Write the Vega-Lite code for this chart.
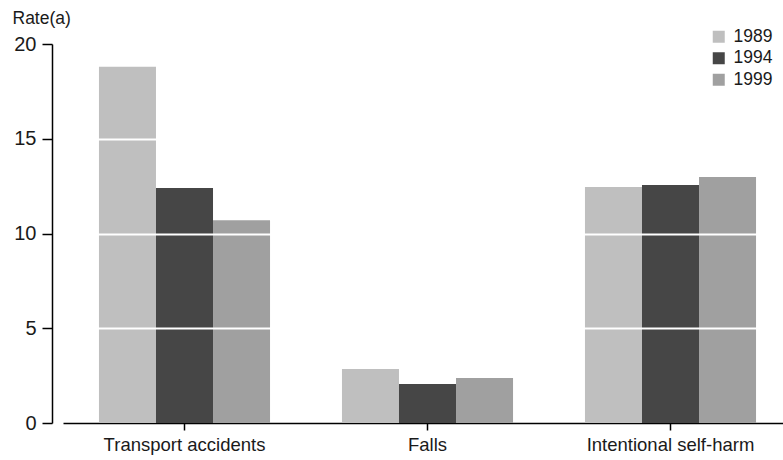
{
  "$schema": "https://vega.github.io/schema/vega-lite/v6.json",
  "width": 729,
  "height": 379,
  "autosize": {"type": "none"},
  "padding": {"left": 63, "top": 44, "right": 0, "bottom": 37},
  "background": "white",
  "config": {
    "view": {"stroke": null},
    "font": "Liberation Sans",
    "axis": {"labelFont": "Liberation Sans", "titleFont": "Liberation Sans", "labelColor": "#1a1a1a", "titleColor": "#1a1a1a"}
  },
  "data": {
    "values": [
      {"cause": "Transport accidents", "year": "1989", "rate": 18.8},
      {"cause": "Transport accidents", "year": "1994", "rate": 12.4},
      {"cause": "Transport accidents", "year": "1999", "rate": 10.7},
      {"cause": "Falls", "year": "1989", "rate": 2.85},
      {"cause": "Falls", "year": "1994", "rate": 2.06},
      {"cause": "Falls", "year": "1999", "rate": 2.37},
      {"cause": "Intentional self-harm", "year": "1989", "rate": 12.45},
      {"cause": "Intentional self-harm", "year": "1994", "rate": 12.56},
      {"cause": "Intentional self-harm", "year": "1999", "rate": 12.98}
    ]
  },
  "mark": {"type": "bar"},
  "encoding": {
    "x": {
      "field": "cause",
      "type": "nominal",
      "sort": ["Transport accidents", "Falls", "Intentional self-harm"],
      "scale": {"paddingInner": 0.296, "paddingOuter": 0.148},
      "axis": {
        "title": null,
        "labelAngle": 0,
        "labelFontSize": 18.5,
        "labelPadding": 5,
        "domainColor": "#000",
        "domainWidth": 1.5,
        "tickColor": "#000",
        "tickSize": 7,
        "tickWidth": 1.5
      }
    },
    "xOffset": {
      "field": "year",
      "type": "nominal",
      "scale": {"paddingInner": 0, "paddingOuter": 0}
    },
    "y": {
      "field": "rate",
      "type": "quantitative",
      "scale": {"domain": [0, 20], "nice": false},
      "axis": {
        "values": [0, 5, 10, 15, 20],
        "offset": 11,
        "title": "Rate(a)",
        "titleAngle": 0,
        "titleAlign": "left",
        "titleBaseline": "alphabetic",
        "titleX": -40,
        "titleY": -21,
        "titleFontSize": 17.5,
        "titleFontWeight": "normal",
        "labelFontSize": 20,
        "labelPadding": 6,
        "domainColor": "#000",
        "domainWidth": 1.5,
        "tickColor": "#000",
        "tickSize": 10,
        "tickWidth": 1.5,
        "grid": true,
        "gridColor": "white",
        "gridWidth": 2,
        "gridOpacity": {"condition": {"test": "datum.value == 0 || datum.value == 20", "value": 0}, "value": 1},
        "zindex": 1
      }
    },
    "color": {
      "field": "year",
      "type": "nominal",
      "scale": {"domain": ["1989", "1994", "1999"], "range": ["#bfbfbf", "#464646", "#a0a0a0"]},
      "legend": {
        "title": null,
        "orient": "none",
        "legendX": 647,
        "legendY": -16,
        "padding": 0,
        "symbolType": "square",
        "symbolSize": 144,
        "symbolStrokeWidth": 0,
        "symbolOpacity": 1,
        "labelFontSize": 17.5,
        "labelColor": "#1a1a1a",
        "labelOffset": 6,
        "rowPadding": 2.5
      }
    }
  }
}
